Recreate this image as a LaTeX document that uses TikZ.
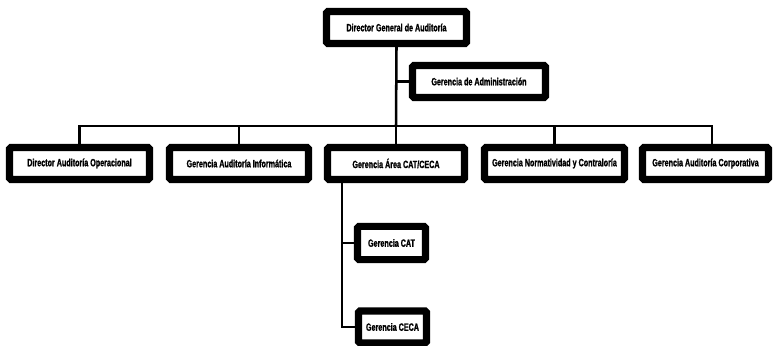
\documentclass[tikz,border=0pt]{standalone}
\usepackage{fontspec}
\newfontfamily\orgfont[FakeStretch=0.68, FakeBold=1.2]{Liberation Sans}
\usetikzlibrary{calc}
\tikzset{
    orgbox/.style={draw, line width=5pt, rounded corners=1pt, fill=white,
        inner sep=0pt, minimum width=#1*0.025cm, minimum height=0.8cm,
        font=\orgfont\fontsize{7.5}{8}\selectfont\bfseries},
    orgline/.style={line width=1.8pt},
}
\begin{document}
\begin{tikzpicture}[x=0.025cm, y=-0.025cm]
    \useasboundingbox (0,0) rectangle (775,346);
    % top level
    \node [orgbox=140] (dg) at (396.5,27.5) {Director General de Auditoría};
    \node [orgbox=133] (adm) at (479,81.5) {Gerencia de Administración};
    % second level
    \node [orgbox=140] (aop) at (79.5,163.5) {Director Auditoría Operacional};
    \node [orgbox=139] (ainf) at (239,163.5) {Gerencia Auditoría Informática};
    \node [orgbox=137] (area) at (396,163.5) {Gerencia Área CAT/CECA};
    \node [orgbox=140] (norm) at (554.5,163.5) {Gerencia Normatividad y Contraloría};
    \node [orgbox=126] (acorp) at (705.5,163.5) {Gerencia Auditoría Corporativa};
    % third level
    \node [orgbox=68, minimum height=0.83cm] (cat) at (391.5,243) {Gerencia CAT};
    \node [orgbox=68] (ceca) at (392.5,327) {Gerencia CECA};
    \coordinate (bus) at (396,126);
    \coordinate (spine) at (342,182);
    \begin{scope}[on background layer/.try]
    \draw[orgline] (dg.south) -- (bus);
    \draw[orgline] (adm.west) -- (adm.west -| dg.south);
    \draw[orgline] (aop.north) |- (bus) -| ($(acorp.north)+(6.5,0)$);
    \draw[orgline] (ainf.north) -- (ainf.north |- bus);
    \draw[orgline] (area.north) -- (bus);
    \draw[orgline] (norm.north) -- (norm.north |- bus);
    \draw[orgline] (spine |- area.south) |- (ceca.west);
    \draw[orgline] (cat.west) -- (cat.west -| spine);
    \end{scope}
\end{tikzpicture}
\end{document}
